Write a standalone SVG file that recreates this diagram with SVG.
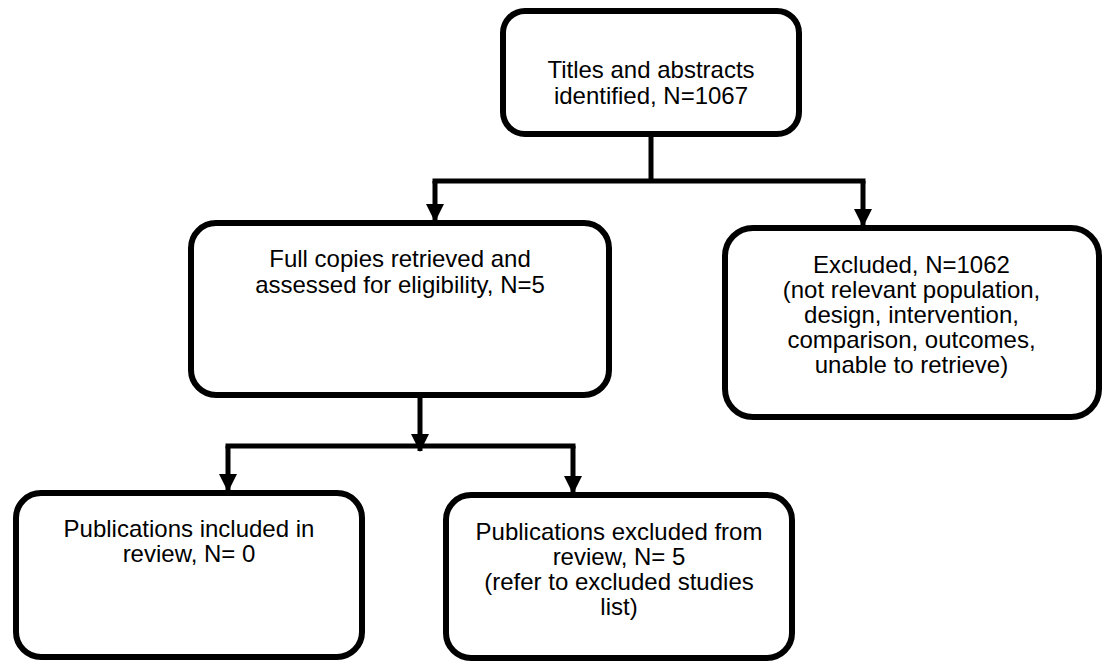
<svg xmlns="http://www.w3.org/2000/svg" width="1106" height="663" viewBox="0 0 1106 663">
<style>
.box{fill:#fff;stroke:#000;stroke-width:6}
.ln{fill:none;stroke:#000;stroke-width:5}
text{font-family:"Liberation Sans",Arial,sans-serif;font-size:24px;fill:#000;text-anchor:middle}
</style>
<defs>
<marker id="ah" markerUnits="userSpaceOnUse" markerWidth="19" markerHeight="18" refX="17" refY="9" orient="auto" viewBox="0 0 18 18">
<path d="M0,0 L18,9 L0,18 Z" fill="#000"/>
</marker>
</defs>
<rect width="1106" height="663" fill="#fff"/>
<g id="connectors">
<line class="ln" x1="651" y1="137" x2="651" y2="181"/>
<line class="ln" x1="432.5" y1="181" x2="865.5" y2="181"/>
<path class="ln" d="M435,181 V221" marker-end="url(#ah)"/>
<path class="ln" d="M863,181 V226" marker-end="url(#ah)"/>
<path class="ln" d="M420,398 V451" marker-end="url(#ah)"/>
<line class="ln" x1="225.5" y1="446" x2="575.5" y2="446"/>
<path class="ln" d="M228,446 V491" marker-end="url(#ah)"/>
<path class="ln" d="M573,446 V493" marker-end="url(#ah)"/>
</g>
<g id="n1">
<rect class="box" x="503" y="11" width="296" height="123" rx="22"/>
<text x="651" y="78">Titles and abstracts</text>
<text x="651" y="104">identified, N=1067</text>
</g>
<g id="n2">
<rect class="box" x="191" y="223" width="418" height="172" rx="25"/>
<text x="400" y="267">Full copies retrieved and</text>
<text x="400" y="293">assessed for eligibility, N=5</text>
</g>
<g id="n3">
<rect class="box" x="725" y="228" width="374" height="189" rx="28"/>
<text x="911.5" y="273">Excluded, N=1062</text>
<text x="911.5" y="298">(not relevant population,</text>
<text x="911.5" y="323">design, intervention,</text>
<text x="911.5" y="348">comparison, outcomes,</text>
<text x="911.5" y="373">unable to retrieve)</text>
</g>
<g id="n4">
<rect class="box" x="16" y="493" width="346" height="164" rx="25"/>
<text x="189" y="537">Publications included in</text>
<text x="189" y="562">review, N= 0</text>
</g>
<g id="n5">
<rect class="box" x="446" y="495" width="346" height="163" rx="25"/>
<text x="619" y="540">Publications excluded from</text>
<text x="619" y="565">review, N= 5</text>
<text x="619" y="590">(refer to excluded studies</text>
<text x="619" y="615">list)</text>
</g>
</svg>
